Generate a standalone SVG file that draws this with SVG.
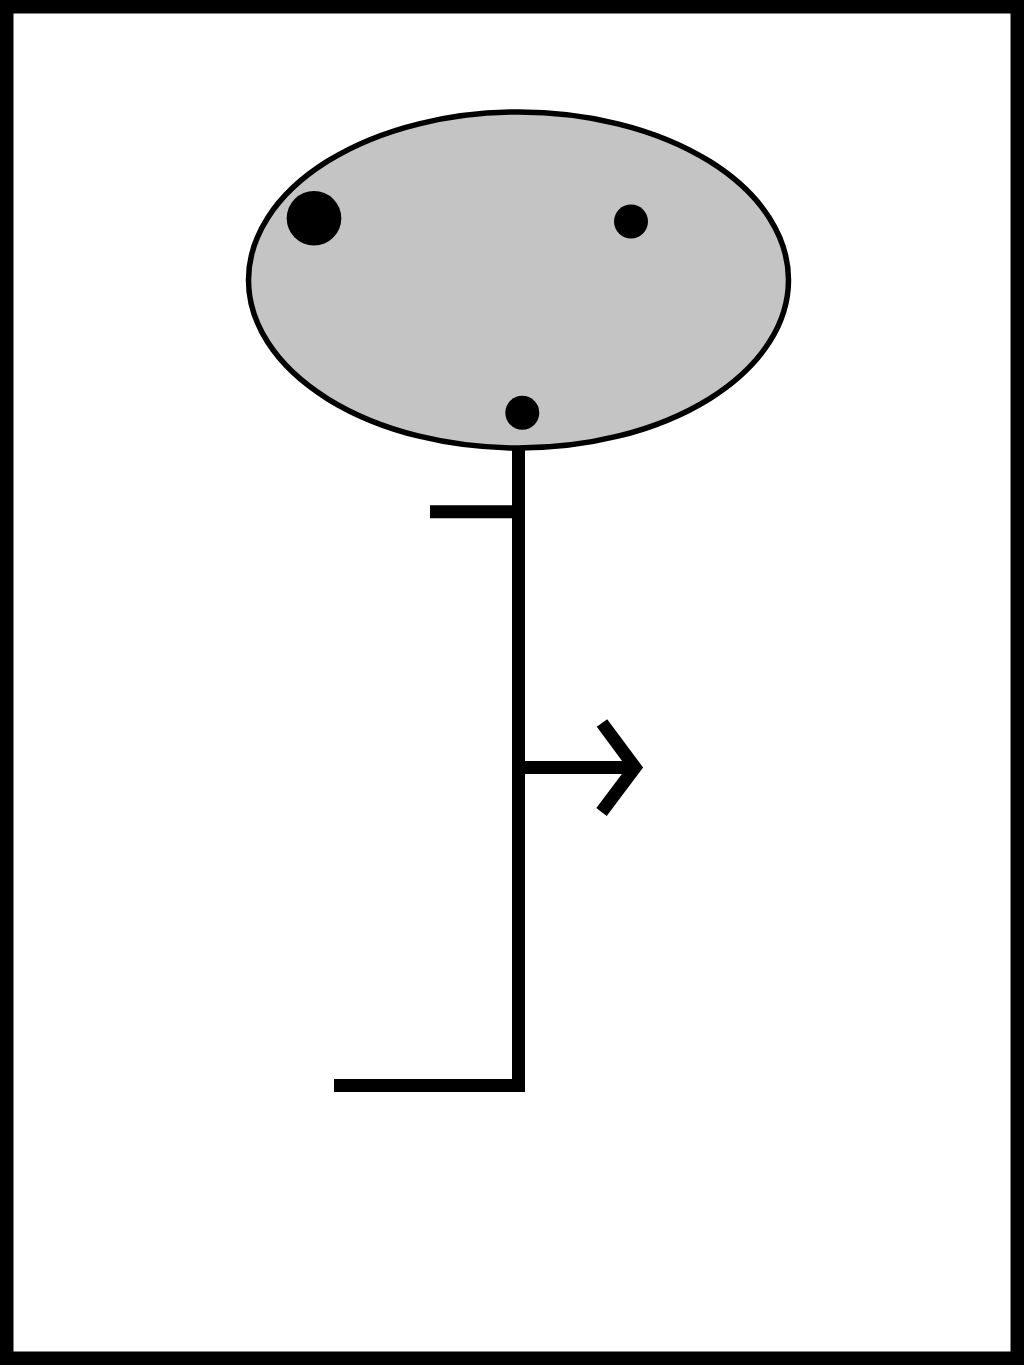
<svg xmlns="http://www.w3.org/2000/svg" width="1024" height="1365" viewBox="0 0 1024 1365">
<style>
.ln{fill:none;stroke:#000;stroke-width:13;stroke-linecap:butt;stroke-linejoin:miter}
.dot{fill:#000}
</style>
<rect x="0" y="0" width="1024" height="1365" fill="#fff"/>
<rect id="frame" x="6.75" y="6.75" width="1010.5" height="1351.5" fill="none" stroke="#000" stroke-width="13.5"/>
<g id="head">
<ellipse cx="518.5" cy="280" rx="270" ry="168" fill="#c4c4c4" stroke="#000" stroke-width="5.5"/>
<circle class="dot" cx="314" cy="218.3" r="27.3"/>
<circle class="dot" cx="631" cy="221.5" r="17"/>
<circle class="dot" cx="522.3" cy="412.7" r="17"/>
</g>
<g id="connectors">
<polyline class="ln" points="518.5,449 518.5,1085.5 334,1085.5"/>
<line class="ln" x1="430" y1="511.7" x2="518.5" y2="511.7"/>
<line class="ln" x1="518.5" y1="767.5" x2="635" y2="767.5"/>
<polyline class="ln" points="602,723 635,767.5 601.5,812"/>
</g>
</svg>
